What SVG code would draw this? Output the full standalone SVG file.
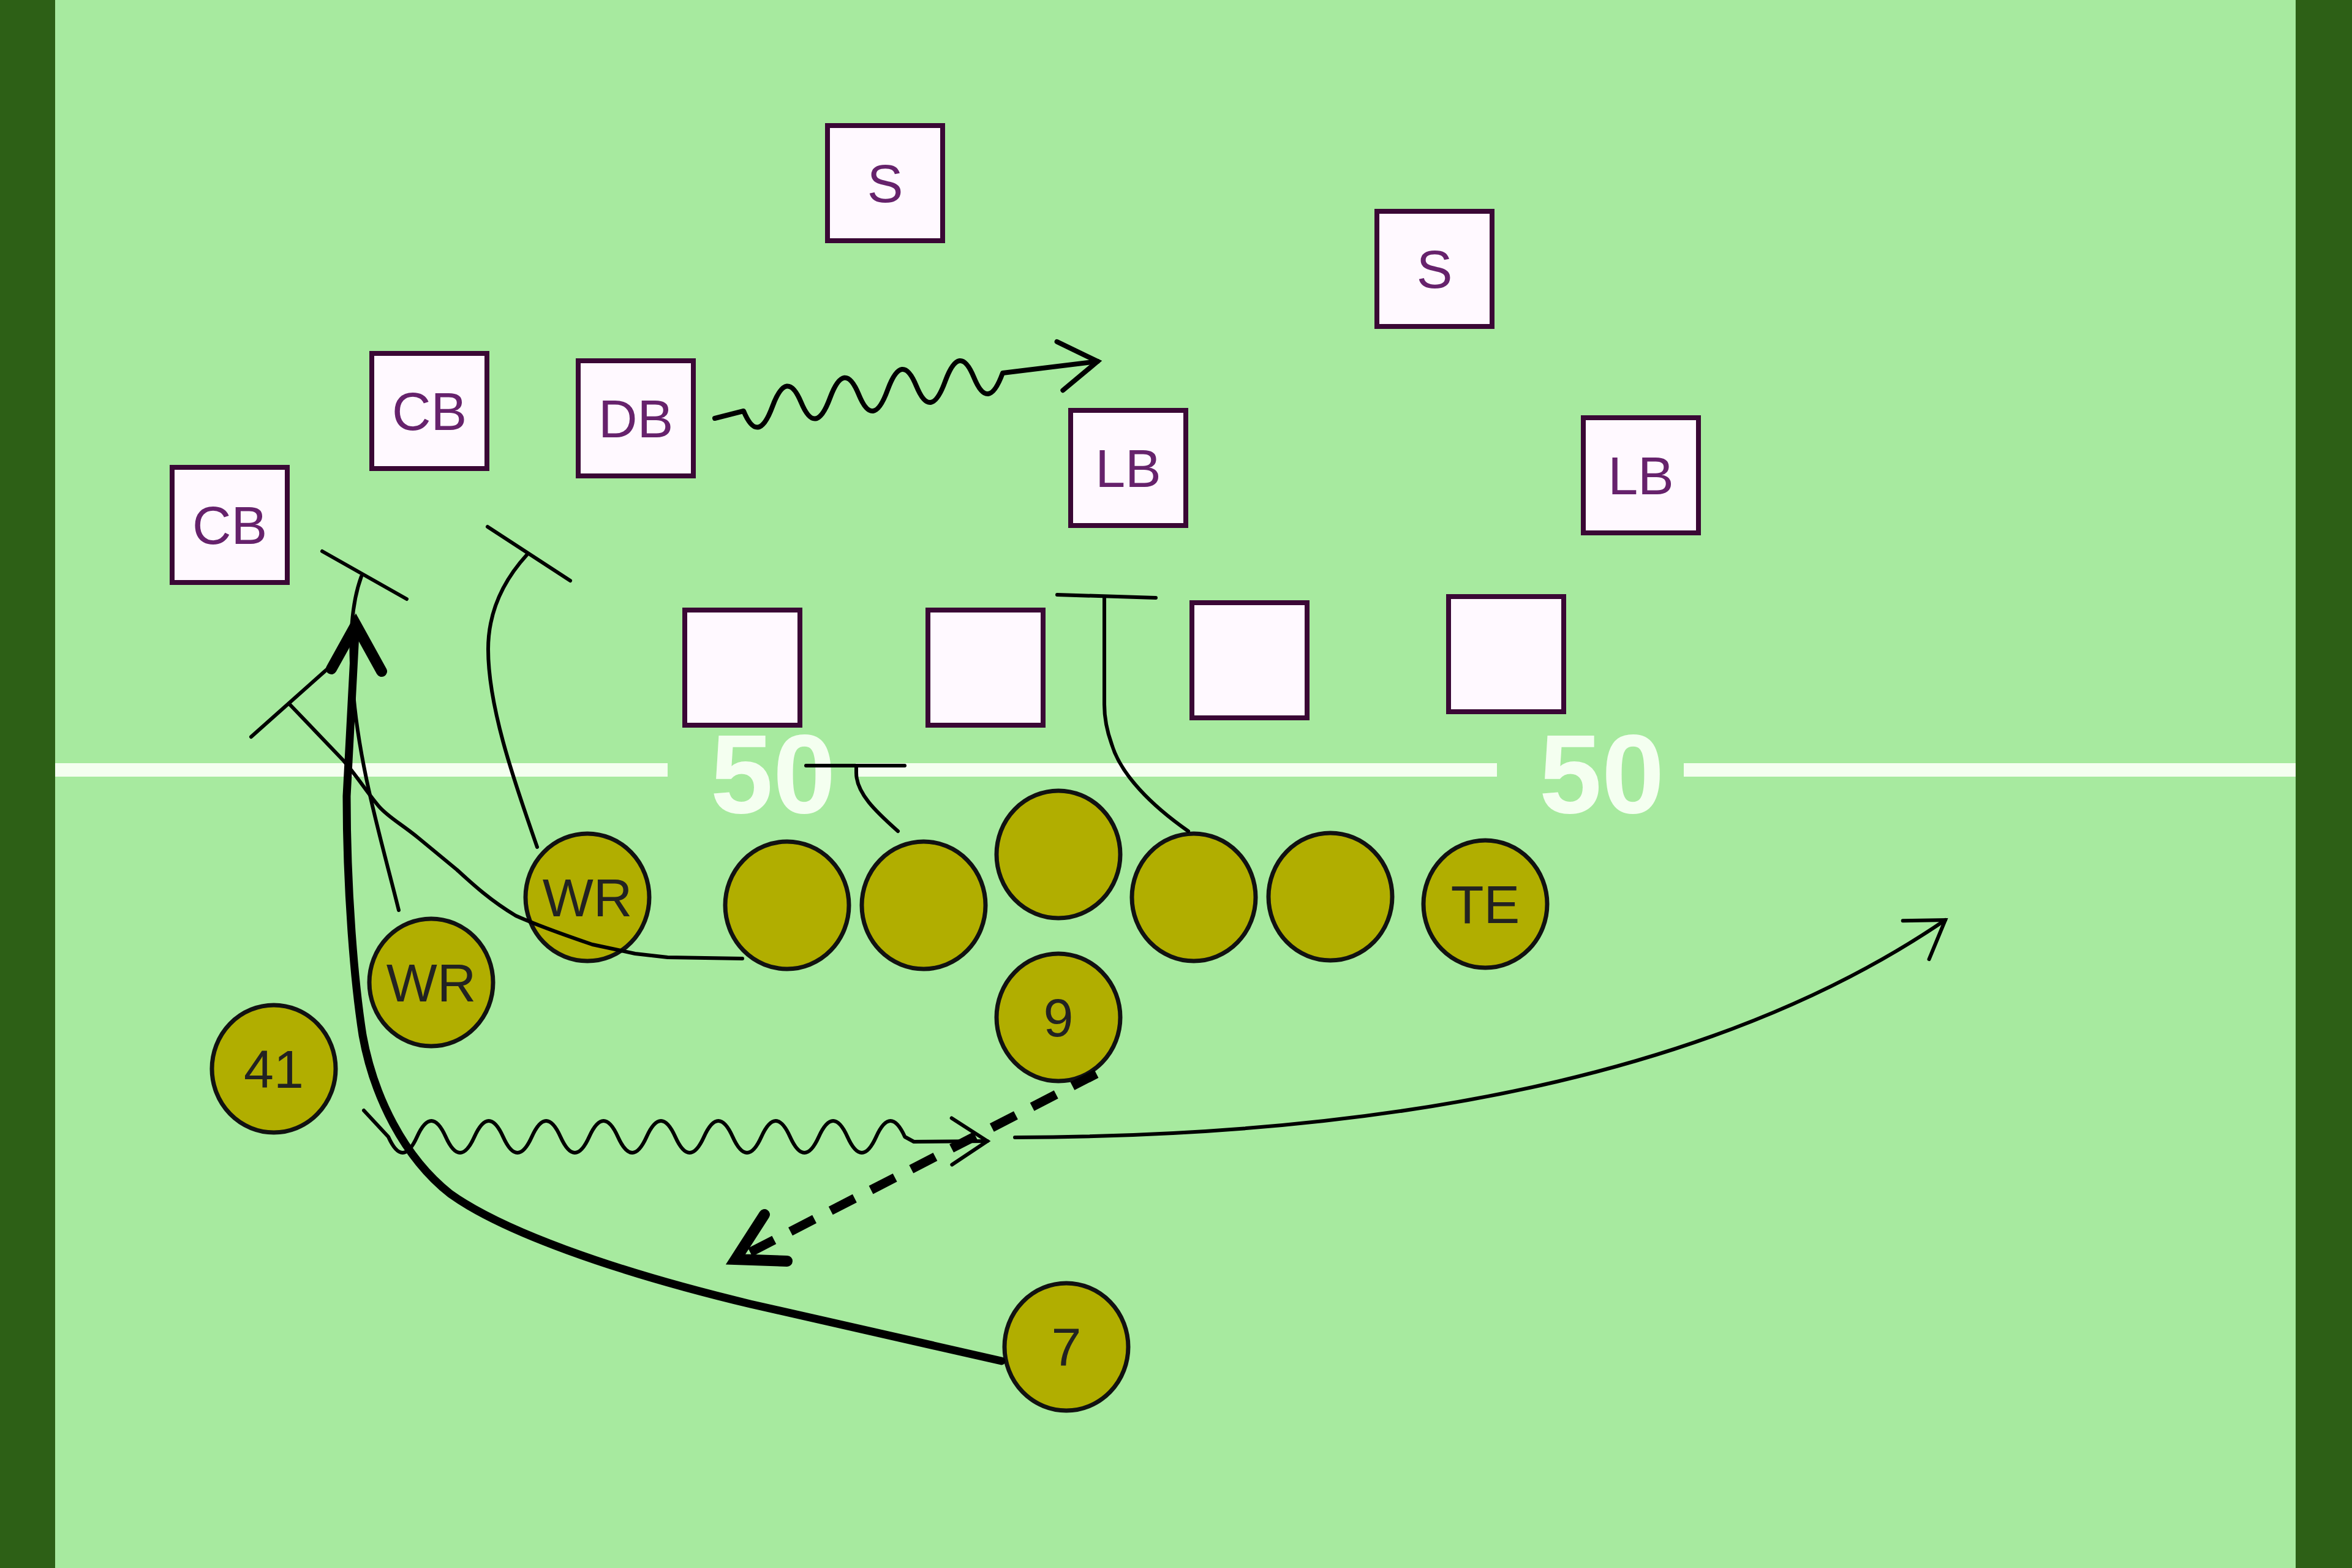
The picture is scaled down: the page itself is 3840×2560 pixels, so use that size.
<svg xmlns="http://www.w3.org/2000/svg" width="3840" height="2560" viewBox="0 0 3840 2560">
<style>
.border{fill:#2D6016}
.field{fill:#A7EA9F}
.yard{stroke:#F4FFF0;stroke-width:22;fill:none}
.num{font-family:"Liberation Sans",Arial,sans-serif;font-weight:bold;font-size:184px;fill:#F4FFF0;text-anchor:middle}
.def rect{fill:#FFF9FF;stroke:#3A0835;stroke-width:8}
.def text{font-family:"Liberation Sans",Arial,sans-serif;font-size:88px;fill:#66226C;text-anchor:middle}
.off ellipse{fill:#B1AE00;stroke:#111;stroke-width:7}
.off text{font-family:"Liberation Sans",Arial,sans-serif;font-size:88px;fill:#222;text-anchor:middle}
.r{fill:none;stroke:#000;stroke-width:6;stroke-linecap:round;stroke-linejoin:round}
.wave{fill:none;stroke:#000;stroke-width:8;stroke-linecap:round;stroke-linejoin:round}
.thick{fill:none;stroke:#000;stroke-width:13;stroke-linecap:round;stroke-linejoin:round}
.dash{fill:none;stroke:#000;stroke-width:15;stroke-dasharray:44 30}
.head{fill:none;stroke:#000;stroke-width:18;stroke-linecap:round;stroke-linejoin:miter}
</style>
<defs>
<marker id="open" markerUnits="userSpaceOnUse" viewBox="-80 -60 100 120" markerWidth="100" markerHeight="120" refX="0" refY="0" orient="auto" overflow="visible">
<path d="M -58 -38 L 0 0 L -58 38" fill="none" stroke="#000" stroke-width="6" stroke-linecap="round" stroke-linejoin="miter"/>
</marker>
<marker id="open2" markerUnits="userSpaceOnUse" viewBox="-80 -60 100 120" markerWidth="100" markerHeight="120" refX="0" refY="0" orient="auto" overflow="visible">
<path d="M -62 -40 L 0 0 L -62 40" fill="none" stroke="#000" stroke-width="8" stroke-linecap="round" stroke-linejoin="miter"/>
</marker>
</defs>
<g id="background">
<rect class="border" x="0" y="0" width="3840" height="2560"/>
<rect class="field" x="90" y="0" width="3658" height="2560"/>
<line class="yard" x1="90" y1="1257" x2="1090" y2="1257"/>
<line class="yard" x1="1397" y1="1257" x2="2444" y2="1257"/>
<line class="yard" x1="2749" y1="1257" x2="3748" y2="1257"/>
<text class="num" x="1262" y="1327">50</text>
<text class="num" x="2615" y="1327">50</text>
</g>
<g id="defense" class="def">
<g id="S1"><rect x="1351" y="205" width="188" height="188"/><text x="1445" y="330">S</text></g>
<g id="S2"><rect x="2248" y="345" width="188" height="188"/><text x="2342" y="470">S</text></g>
<g id="CB1"><rect x="607" y="577" width="188" height="188"/><text x="701" y="702">CB</text></g>
<g id="DB"><rect x="944" y="589" width="188" height="188"/><text x="1038" y="714">DB</text></g>
<g id="CB2"><rect x="281" y="763" width="188" height="188"/><text x="375" y="888">CB</text></g>
<g id="LB1"><rect x="1748" y="670" width="188" height="188"/><text x="1842" y="795">LB</text></g>
<g id="LB2"><rect x="2585" y="682" width="188" height="188"/><text x="2679" y="807">LB</text></g>
<g id="DL1"><rect x="1118" y="996" width="188" height="188"/></g>
<g id="DL2"><rect x="1515" y="996" width="188" height="188"/></g>
<g id="DL3"><rect x="1946" y="984" width="188" height="188"/></g>
<g id="DL4"><rect x="2365" y="974" width="188" height="188"/></g>
</g>
<g id="offense" class="off">
<g id="WR1"><ellipse cx="959" cy="1465" rx="101" ry="104"/><text x="959" y="1496">WR</text></g>
<g id="WR2"><ellipse cx="704" cy="1604" rx="101" ry="104"/><text x="704" y="1635">WR</text></g>
<g id="P41"><ellipse cx="447" cy="1745" rx="101" ry="104"/><text x="447" y="1776">41</text></g>
<g id="OL1"><ellipse cx="1285" cy="1478" rx="101" ry="104"/></g>
<g id="OL2"><ellipse cx="1508" cy="1478" rx="101" ry="104"/></g>
<g id="C"><ellipse cx="1728" cy="1395" rx="101" ry="104"/></g>
<g id="OL4"><ellipse cx="1949" cy="1465" rx="101" ry="104"/></g>
<g id="OL5"><ellipse cx="2172" cy="1464" rx="101" ry="104"/></g>
<g id="TE"><ellipse cx="2425" cy="1476" rx="101" ry="104"/><text x="2425" y="1507">TE</text></g>
<g id="P9"><ellipse cx="1728" cy="1661" rx="101" ry="104"/><text x="1728" y="1692">9</text></g>
<g id="P7"><ellipse cx="1741" cy="2199" rx="101" ry="104"/><text x="1741" y="2230">7</text></g>
</g>
<g id="connectors">
<!-- DB wavy motion -->
<path class="wave" d="M 1167 683 L 1214 671 Q 1237.5 727.5 1261 664 T 1308 657 T 1355 650 T 1402 644 T 1449 637 T 1496 630 T 1543 623 T 1590 616 T 1637 609 L 1792 590" marker-end="url(#open2)"/>
<!-- OL1 pull block -->
<path class="r" d="M 1212 1565 L 1090 1563 L 1037 1557 L 967 1542 C 920 1526, 880 1512, 842 1495 C 800 1470, 770 1442, 746 1420 L 683 1368 C 655 1345, 635 1335, 619 1317 C 600 1295, 585 1270, 561 1242 L 472 1149"/>
<line class="r" x1="410" y1="1203" x2="537" y2="1090"/>
<!-- WR lower block -->
<path class="r" d="M 651 1486 C 625 1380, 585 1250, 576 1120 C 571 1050, 572 990, 590 941"/>
<line class="r" x1="526" y1="900" x2="664" y2="978"/>
<!-- WR upper block -->
<path class="r" d="M 877 1383 C 845 1290, 797 1160, 797 1060 C 797 1000, 820 950, 860 906"/>
<line class="r" x1="796" y1="860" x2="931" y2="948"/>
<!-- OL2 block -->
<path class="r" d="M 1466 1357 C 1430 1325, 1398 1295, 1398 1262 L 1398 1250"/>
<line class="r" x1="1316" y1="1250" x2="1477" y2="1250"/>
<!-- OL4 block on LB -->
<path class="r" d="M 1940 1357 C 1880 1315, 1830 1265, 1815 1215 C 1806 1190, 1803 1170, 1803 1150 L 1803 974"/>
<line class="r" x1="1726" y1="971" x2="1887" y2="976"/>
<!-- 41 wavy motion -->
<path class="r" d="M 594 1813 L 634 1856 Q 657.4 1908 680.85 1856 T 727.7 1856 T 774.55 1856 T 821.4 1856 T 868.25 1856 T 915.1 1856 T 961.95 1856 T 1008.8 1856 T 1055.65 1856 T 1102.5 1856 T 1149.35 1856 T 1196.2 1856 T 1243.05 1856 T 1289.9 1856 T 1336.75 1856 T 1383.6 1856 T 1430.45 1856 T 1477.3 1856 L 1492 1864 L 1612 1863" marker-end="url(#open)"/>
<!-- long route -->
<path class="r" d="M 1657 1857 C 2300 1855, 2820 1745, 3176 1502" marker-end="url(#open)"/>
<!-- 9 dashed pitch -->
<path class="dash" d="M 1790 1753 L 1214 2050"/>
<path class="head" d="M 1248 1983 L 1201 2056 L 1285 2059"/>
<!-- QB 7 thick route -->
<path class="thick" d="M 1635 2222 L 1225 2129 C 1000 2075, 820 2010, 735 1949 C 660 1890, 610 1790, 592 1690 C 578 1600, 566 1450, 566 1300 L 580 1035"/>
<path class="head" d="M 541 1092 L 581 1020 L 623 1096"/>
</g>
</svg>
